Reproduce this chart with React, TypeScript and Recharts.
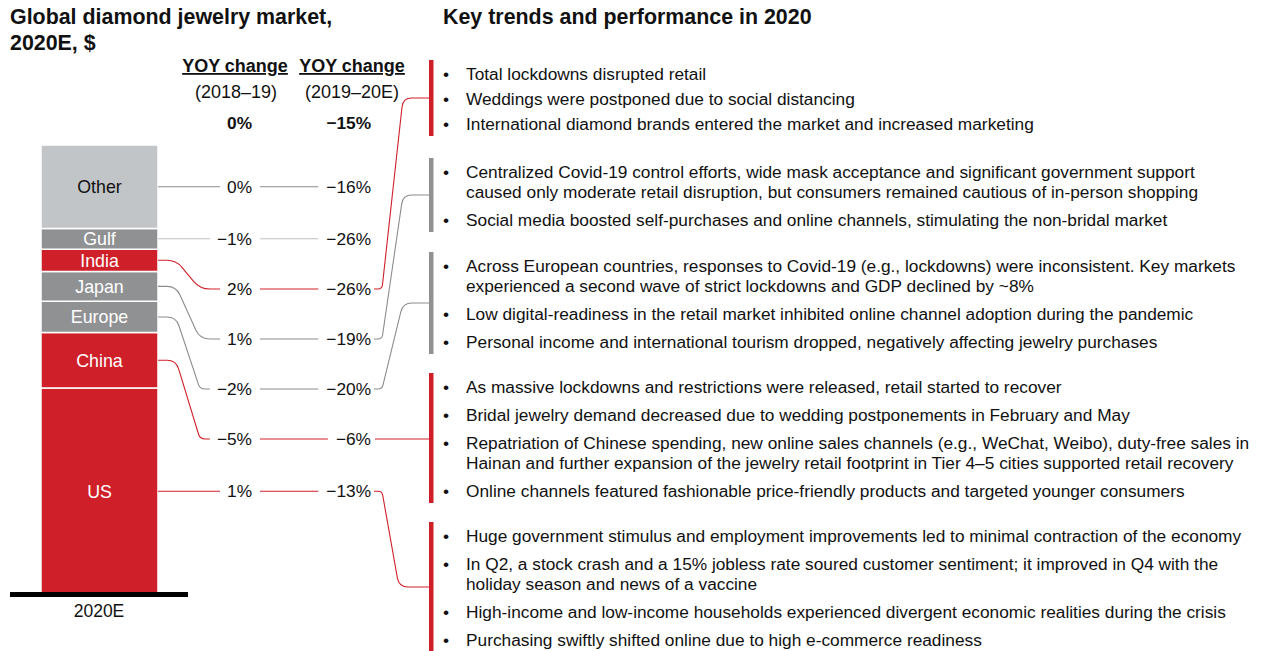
import React from "react";
import { BarChart, Bar, XAxis, YAxis, Customized } from "recharts";

const FONT = '"Liberation Sans", Arial, Helvetica, sans-serif';

// market segments, bottom to top of the stack
const segments = ["US", "China", "Europe", "Japan", "India", "Gulf", "Other"];
const marketSize = [31.7, 8.5, 4.8, 4.6, 3.4, 3.2, 12.8]; // $B, 2020E
const yoy1819 = [1, -5, -2, 1, 2, -1, 0];
const yoy1920 = [-13, -6, -20, -19, -26, -26, -16];
const totalYoy1819 = 0;
const totalYoy1920 = -15;
// trend group each market points to (-1 = none)
const trendGroupOf = [4, 3, 2, 1, 0, -1, -1];

// bullet texts per group, each bullet split in its printed lines
const trendGroups: string[][][] = [
  [
    ["Total lockdowns disrupted retail"],
    ["Weddings were postponed due to social distancing"],
    ["International diamond brands entered the market and increased marketing"],
  ],
  [
    [
      "Centralized Covid-19 control efforts, wide mask acceptance and significant government support",
      "caused only moderate retail disruption, but consumers remained cautious of in-person shopping",
    ],
    ["Social media boosted self-purchases and online channels, stimulating the non-bridal market"],
  ],
  [
    [
      "Across European countries, responses to Covid-19 (e.g., lockdowns) were inconsistent. Key markets",
      "experienced a second wave of strict lockdowns and GDP declined by ~8%",
    ],
    ["Low digital-readiness in the retail market inhibited online channel adoption during the pandemic"],
    ["Personal income and international tourism dropped, negatively affecting jewelry purchases"],
  ],
  [
    ["As massive lockdowns and restrictions were released, retail started to recover"],
    ["Bridal jewelry demand decreased due to wedding postponements in February and May"],
    [
      "Repatriation of Chinese spending, new online sales channels (e.g., WeChat, Weibo), duty-free sales in",
      "Hainan and further expansion of the jewelry retail footprint in Tier 4\u20135 cities supported retail recovery",
    ],
    ["Online channels featured fashionable price-friendly products and targeted younger consumers"],
  ],
  [
    ["Huge government stimulus and employment improvements led to minimal contraction of the economy"],
    [
      "In Q2, a stock crash and a 15% jobless rate soured customer sentiment; it improved in Q4 with the",
      "holiday season and news of a vaccine",
    ],
    ["High-income and low-income households experienced divergent economic realities during the crisis"],
    ["Purchasing swiftly shifted online due to high e-commerce readiness"],
  ],
];

const RED = "#cf2029";
const GRAY = "#8f9193";
const LIGHT = "#c2c5c7";
const LINE_GRAY = "#8c8c8c";
const LINE_LIGHT = "#c0c0c0";
const TEXT = "#111";

const segFill: Record<string, string> = {
  US: RED, China: RED, Europe: GRAY, Japan: GRAY, India: RED, Gulf: GRAY, Other: LIGHT,
};
const segLine: Record<string, string> = {
  US: RED, China: RED, Europe: LINE_GRAY, Japan: LINE_GRAY, India: RED, Gulf: LINE_LIGHT, Other: LINE_GRAY,
};
const groupColor = [RED, GRAY, GRAY, RED, RED];

// layout
const ROW_Y = [489, 439, 389, 339, 289, 239, 187];
const COL1_RIGHT = 252;
const COL2_RIGHT = 371;
const VAL_SIZE = 17.3;
const GROUP_FIRST = [80, 178, 272, 393, 542];
const GROUP_GAP = [25, 28, 28, 28, 28];
const WRAP_GAP = 20;
const BRACKET_X = 429;

const chartData = [
  {
    name: "2020E",
    ...Object.fromEntries(segments.map((s, i) => [s, marketSize[i]])),
  },
];
const total = marketSize.reduce((a, b) => a + b, 0);

const CHAR_W: Record<string, number> = { "%": 0.889, "\u2212": 0.584 };
const textW = (s: string, size: number) =>
  [...s].reduce((a, c) => a + (CHAR_W[c] ?? 0.556), 0) * size;
const fmt = (v: number) => (v < 0 ? "\u2212" : "") + Math.abs(v) + "%";

function roundedPath(pts: number[][], r: number) {
  let d = `M${pts[0][0]},${pts[0][1]}`;
  for (let i = 1; i < pts.length - 1; i++) {
    const [x0, y0] = pts[i - 1];
    const [x1, y1] = pts[i];
    const [x2, y2] = pts[i + 1];
    const l1 = Math.hypot(x1 - x0, y1 - y0);
    const l2 = Math.hypot(x2 - x1, y2 - y1);
    const rr = Math.min(r, l1 / 2, l2 / 2);
    const ax = x1 + ((x0 - x1) * rr) / l1;
    const ay = y1 + ((y0 - y1) * rr) / l1;
    const bx = x1 + ((x2 - x1) * rr) / l2;
    const by = y1 + ((y2 - y1) * rr) / l2;
    d += ` L${ax},${ay} Q${x1},${y1} ${bx},${by}`;
  }
  const last = pts[pts.length - 1];
  return d + ` L${last[0]},${last[1]}`;
}

function layoutGroup(g: number) {
  let y = GROUP_FIRST[g];
  const lines: { text: string; y: number; bullet: boolean }[] = [];
  trendGroups[g].forEach((item, k) => {
    if (k > 0) y += GROUP_GAP[g];
    item.forEach((line, j) => {
      if (j > 0) y += WRAP_GAP;
      lines.push({ text: line, y, bullet: j === 0 });
    });
  });
  return { lines, top: GROUP_FIRST[g] - 20, bottom: y + 6 };
}
const groupLayouts = trendGroups.map((_, g) => layoutGroup(g));

const makeLabel = (i: number) => (props: any) => {
  const box = props.viewBox && props.viewBox.height != null ? props.viewBox : props;
  const { x, y, width, height } = box;
  const name = segments[i];
  const cy = y + height / 2;
  const right = x + width;
  const rowY = Math.abs(ROW_Y[i] - cy) < 4 ? cy : ROW_Y[i];
  const v1 = fmt(yoy1819[i]);
  const v2 = fmt(yoy1920[i]);
  const t1Start = COL1_RIGHT - textW(v1, VAL_SIZE);
  const t2Start = COL2_RIGHT - textW(v2, VAL_SIZE);
  const color = segLine[name];

  const leftPts =
    rowY === cy
      ? [[right, cy], [t1Start - 7, cy]]
      : [[right, cy], [176, cy], [200, rowY], [t1Start - 7, rowY]];

  let rightPath: string | null = null;
  const g = trendGroupOf[i];
  if (g >= 0) {
    const gl = groupLayouts[g];
    const ty = (gl.top + gl.bottom) / 2;
    const pts =
      Math.abs(ty - rowY) < 4
        ? [[COL2_RIGHT + 4, rowY], [BRACKET_X, rowY]]
        : [[COL2_RIGHT + 3, rowY], [382, rowY], [ty < rowY ? 403 : 399, ty], [BRACKET_X, ty]];
    rightPath = roundedPath(pts, 9);
  }

  return (
    <g fontFamily={FONT}>
      <text
        x={x + width / 2}
        y={cy + 6.3}
        textAnchor="middle"
        fontSize={17.8}
        fill={name === "Other" ? TEXT : "#fff"}
      >
        {name}
      </text>
      <path d={roundedPath(leftPts, 10)} fill="none" stroke={color} strokeWidth={1.1} />
      <line x1={COL1_RIGHT + 8} x2={t2Start - 8} y1={rowY} y2={rowY} stroke={color} strokeWidth={1.1} />
      {rightPath && <path d={rightPath} fill="none" stroke={color} strokeWidth={1.1} />}
      <text x={COL1_RIGHT} y={rowY + 6.2} textAnchor="end" fontSize={VAL_SIZE} fill={TEXT}>
        {v1}
      </text>
      <text x={COL2_RIGHT} y={rowY + 6.2} textAnchor="end" fontSize={VAL_SIZE} fill={TEXT}>
        {v2}
      </text>
    </g>
  );
};

const StaticLayer = () => (
  <g fontFamily={FONT} fill={TEXT}>
    <text x={10} y={24} fontSize={21.4} fontWeight="bold">Global diamond jewelry market,</text>
    <text x={10} y={50} fontSize={21.4} fontWeight="bold">2020E, $</text>
    <text x={443} y={24} fontSize={21.4} fontWeight="bold">Key trends and performance in 2020</text>

    <text x={235} y={72} fontSize={18} fontWeight="bold" textAnchor="middle" textDecoration="underline">
      YOY change
    </text>
    <text x={352} y={72} fontSize={18} fontWeight="bold" textAnchor="middle" textDecoration="underline">
      YOY change
    </text>
    <text x={236} y={98} fontSize={18} textAnchor="middle">(2018{"\u2013"}19)</text>
    <text x={352} y={98} fontSize={18} textAnchor="middle">(2019{"\u2013"}20E)</text>
    <text x={COL1_RIGHT} y={129} fontSize={VAL_SIZE} fontWeight="bold" textAnchor="end">
      {fmt(totalYoy1819)}
    </text>
    <text x={COL2_RIGHT} y={129} fontSize={VAL_SIZE} fontWeight="bold" textAnchor="end">
      {fmt(totalYoy1920)}
    </text>

    {groupLayouts.map((gl, g) => (
      <g key={g}>
        <rect x={BRACKET_X} y={gl.top} width={4.5} height={gl.bottom - gl.top} fill={groupColor[g]} />
        {gl.lines.map((l, k) => (
          <g key={k}>
            {l.bullet && (
              <text x={446} y={l.y} fontSize={VAL_SIZE} textAnchor="middle">{"\u2022"}</text>
            )}
            <text x={466} y={l.y} fontSize={VAL_SIZE}>{l.text}</text>
          </g>
        ))}
      </g>
    ))}
  </g>
);

export default function App() {
  return (
    <div style={{ position: "absolute", left: 0, top: 0, background: "#fff" }}>
      <BarChart
        width={1262}
        height={651}
        data={chartData}
        margin={{ top: 145, right: 1074, bottom: 26.5, left: 10 }}
      >
        <YAxis hide domain={[0, total]} />
        {segments.map((s, i) => (
          <Bar
            key={s}
            dataKey={s}
            stackId="mkt"
            barSize={117}
            fill={segFill[s]}
            stroke="#fff"
            strokeWidth={1.5}
            isAnimationActive={false}
            label={makeLabel(i)}
          />
        ))}
        <XAxis
          dataKey="name"
          height={30}
          axisLine={{ stroke: "#000", strokeWidth: 5 }}
          tickLine={false}
          tickMargin={4}
          tick={{ fontSize: 17.5, fill: TEXT, fontFamily: FONT }}
        />
        <Customized component={StaticLayer} />
      </BarChart>
    </div>
  );
}
